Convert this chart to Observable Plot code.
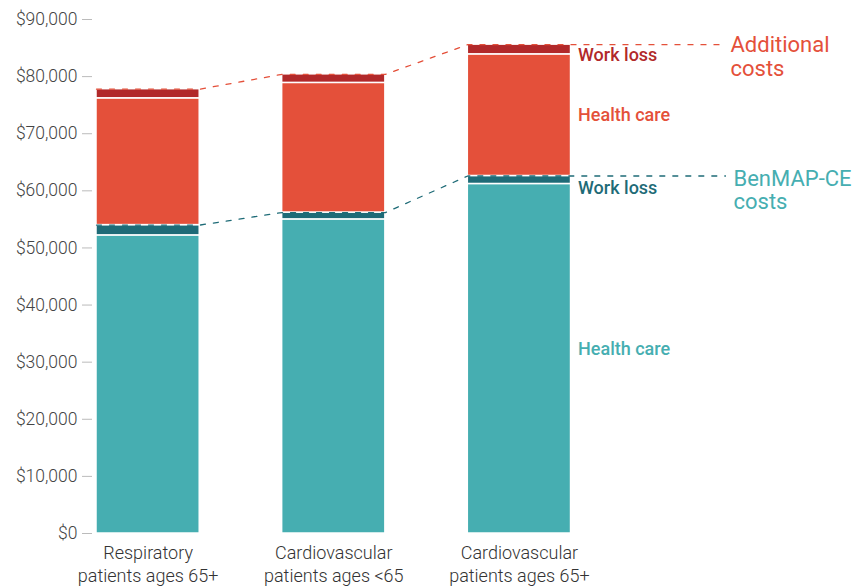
<!DOCTYPE html>
<html>
<head>
<meta charset="utf-8">
<script src="https://cdn.jsdelivr.net/npm/d3@7"></script>
<script src="https://cdn.jsdelivr.net/npm/@observablehq/plot@0.6"></script>
<style>
  html, body { margin: 0; padding: 0; background: #fff; }
  #chart svg { display: block; }
</style>
</head>
<body>
<div id="chart"></div>
<script>
// ---- data ----
const categories = ["Respiratory\npatients ages 65+", "Cardiovascular\npatients ages <65", "Cardiovascular\npatients ages 65+"];
const benmapHealthCare = [52200, 55000, 61200];
const benmapWorkLoss = [1800, 1200, 1400];
const additionalHealthCare = [22200, 22700, 21300];
const additionalWorkLoss = [1600, 1500, 1700];
const yTicks = [0, 10000, 20000, 30000, 40000, 50000, 60000, 70000, 80000, 90000];
const segmentNames = ["BenMAP health care", "BenMAP work loss", "Additional health care", "Additional work loss"];
const segmentColors = ["#46aeb1", "#1e6b77", "#e4503a", "#b1292a"];

// ---- derived ----
const hw = 0.278;      // half bar width in index units
const xEnd = 3.11;     // end of the guide lines
const series = [benmapHealthCare, benmapWorkLoss, additionalHealthCare, additionalWorkLoss];
const segs = [];
categories.forEach((c, i) => {
  let base = 0;
  series.forEach((s, k) => {
    segs.push({i, key: segmentNames[k], y1: base, y2: base + s[i]});
    base += s[i];
  });
});
const benTotal = categories.map((c, i) => benmapHealthCare[i] + benmapWorkLoss[i]);
const allTotal = categories.map((c, i) => benTotal[i] + additionalHealthCare[i] + additionalWorkLoss[i]);
function guide(tot) {
  const pts = [];
  tot.forEach((t, i) => { pts.push({x: i - hw, y: t}); pts.push({x: i + hw, y: t}); });
  pts.push({x: xEnd, y: tot[tot.length - 1]});
  return pts;
}
const last = categories.length - 1;

const segLabel = (k, text, yv, dy) => Plot.text([{x: last + hw, y: yv}], {
  x: "x", y: "y", text: () => text, dx: 7, dy, textAnchor: "start",
  fill: segmentColors[k], fontSize: 18, fontWeight: 500
});

const chart = Plot.plot({
  width: 857,
  height: 586,
  marginLeft: 96,
  marginRight: 857 - 725,
  marginTop: 19,
  marginBottom: 53,
  style: {fontFamily: "Roboto, sans-serif", background: "#fff"},
  x: {domain: [-hw, xEnd], axis: null},
  y: {domain: [0, 90000], axis: null},
  color: {domain: segmentNames, range: segmentColors},
  marks: [
    Plot.rectY(segs, {
      x1: d => d.i - hw, x2: d => d.i + hw, y1: "y1", y2: "y2",
      fill: "key", stroke: "#fff", strokeWidth: 1.5
    }),
    Plot.line(guide(benTotal), {x: "x", y: "y", stroke: "#1e6b77", strokeWidth: 1.3, strokeDasharray: "5,8"}),
    Plot.line(guide(allTotal), {x: "x", y: "y", stroke: "#e4503a", strokeWidth: 1.3, strokeDasharray: "5,8"}),
    Plot.axisY({
      ticks: yTicks, tickFormat: d => "$" + d3.format(",")(d),
      tickSize: 10, tickPadding: 5, dx: -4, stroke: "#bbb", fill: "#444",
      fontSize: 17.5, fontWeight: 300, label: null
    }),
    Plot.axisX({
      ticks: [0, 1, 2], tickFormat: i => categories[i],
      tickSize: 0, tickPadding: 9, fill: "#333",
      fontSize: 18, fontWeight: 300, lineHeight: 1.27, label: null
    }),
    segLabel(3, "Work loss", allTotal[last] - additionalWorkLoss[last], 1),
    segLabel(2, "Health care", benTotal[last] + additionalHealthCare[last] / 2, 0),
    segLabel(1, "Work loss", benmapHealthCare[last], 4),
    segLabel(0, "Health care", benmapHealthCare[last] / 2, -10),
    Plot.text([{x: xEnd, y: allTotal[last]}], {
      x: "x", y: "y", text: () => "Additional\ncosts", dx: 5, dy: -9,
      textAnchor: "start", lineAnchor: "top", lineHeight: 1.07,
      fill: "#e4503a", fontSize: 22, fontWeight: 400
    }),
    Plot.text([{x: xEnd, y: benTotal[last]}], {
      x: "x", y: "y", text: () => "BenMAP-CE\ncosts", dx: 8, dy: -7,
      textAnchor: "start", lineAnchor: "top", lineHeight: 1.07,
      fill: "#46aeb1", fontSize: 22, fontWeight: 400
    })
  ]
});
document.getElementById("chart").appendChild(chart);
</script>
</body>
</html>
